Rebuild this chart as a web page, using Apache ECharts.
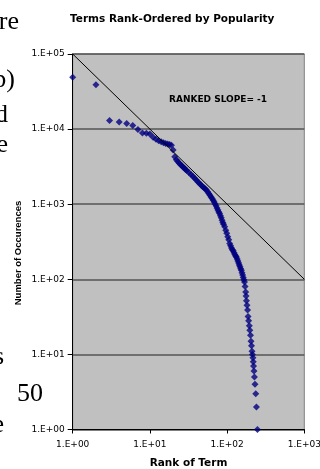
<!DOCTYPE html>
<html>
<head>
<meta charset="utf-8">
<script src="https://cdn.jsdelivr.net/npm/echarts@6/dist/echarts.min.js"></script>
<style>
  html, body { margin: 0; padding: 0; background: #fff; }
  #chart { width: 320px; height: 469px; }
</style>
</head>
<body>
<div id="chart"></div>
<script>
// rank of each term (x) and how often it occurs (y)
const ranks = [1, 2, 3, 4, 5, 6, 7, 8, 9, 10, 11, 12, 13, 14, 15, 16, 17, 18, 19, 20,
  21, 22, 23, 24, 25, 26, 27, 28, 29, 30, 32, 34, 36, 38, 40, 42, 44, 46, 48, 50,
  52, 54, 56, 58, 60, 62, 64, 66, 68, 70, 72, 74, 76, 78, 80, 82, 84, 86, 88, 90,
  93, 96, 99, 102, 105, 108, 111, 114, 117, 120, 123, 126, 129, 132, 135, 138, 141, 144, 147, 150,
  153, 156, 159, 162, 165, 168, 171, 174, 176, 178, 181, 184, 187, 190, 194, 197, 201, 204, 207, 210,
  213, 216, 218, 220, 223, 226, 230, 235, 240, 247]
const counts = [49000, 39000, 13000, 12400, 11900, 11200, 9900, 8900, 8800, 8600, 7800, 7300, 7000, 6800, 6600, 6450, 6350, 6250, 6100, 5250,
  4300, 3900, 3700, 3500, 3350, 3250, 3100, 3000, 2900, 2820, 2650, 2480, 2350, 2220, 2100, 1980, 1890, 1800, 1720, 1660,
  1600, 1540, 1460, 1390, 1320, 1250, 1190, 1130, 1070, 1010, 950, 890, 840, 790, 750, 700, 660, 610, 570, 540,
  500, 450, 410, 370, 335, 300, 280, 262, 248, 240, 225, 214, 205, 198, 186, 175, 165, 155, 147, 138,
  132, 122, 114, 106, 99, 92, 80, 68, 60, 52, 45, 39, 32, 28, 24, 21, 18, 15, 13, 11,
  10, 9, 8, 7, 6, 5, 4, 3, 2, 1]

// reference line of slope -1
const slopeLine = [[1, 100000], [1000, 100]]

// cut-off words of the surrounding document on the left edge
const sideWords = ['ore', '(b)', 'and', 'the', 'is', '50', 'the']

const chart = echarts.init(document.getElementById('chart'))

const expLabel = (v) => '1.E+' + String(Math.round(Math.log10(v))).padStart(2, '0')
const serif = '26px "Liberation Serif"'

const option = {
  animation: false,
  backgroundColor: '#ffffff',
  title: [
    {
      text: 'Terms Rank-Ordered by Popularity',
      left: 70,
      top: 14,
      padding: 0,
      textStyle: { fontFamily: 'DejaVu Sans', fontSize: 10.5, fontWeight: 'bold', color: '#000' }
    },
    {
      text: 'RANKED SLOPE= -1',
      left: 169,
      top: 95,
      padding: 0,
      textStyle: { fontFamily: 'DejaVu Sans', fontSize: 9, fontWeight: 'bold', color: '#000' }
    }
  ],
  grid: {
    left: 72.7,
    right: 15.7,
    top: 54,
    bottom: 39.5,
    outerBoundsMode: 'none',
    show: true,
    backgroundColor: '#c0c0c0',
    borderColor: '#808080',
    borderWidth: 1
  },
  xAxis: {
    type: 'log',
    logBase: 10,
    min: 1,
    max: 1000,
    name: 'Rank of Term',
    nameLocation: 'middle',
    nameGap: 28,
    nameTextStyle: { fontFamily: 'DejaVu Sans', fontSize: 10.5, fontWeight: 'bold', color: '#000' },
    axisLine: { lineStyle: { color: '#000', width: 1 } },
    axisTick: { show: true, length: 4, lineStyle: { color: '#000' } },
    minorTick: { show: false },
    splitLine: { show: false },
    axisLabel: {
      formatter: expLabel,
      margin: 11,
      fontFamily: 'DejaVu Sans',
      fontSize: 9,
      color: '#000'
    }
  },
  yAxis: {
    type: 'log',
    logBase: 10,
    min: 1,
    max: 100000,
    axisLine: { lineStyle: { color: '#000', width: 1 } },
    axisTick: { show: true, length: 5, lineStyle: { color: '#000' } },
    minorTick: { show: false },
    splitLine: { show: true, lineStyle: { color: '#555', width: 1.5 } },
    axisLabel: {
      formatter: expLabel,
      margin: 8,
      fontFamily: 'DejaVu Sans',
      fontSize: 9,
      color: '#000'
    }
  },
  graphic: [
    {
      type: 'text',
      x: 18,
      y: 253,
      rotation: Math.PI / 2,
      style: {
        text: 'Number of Occurences',
        font: 'bold 9.5px "Liberation Sans"',
        fill: '#000',
        align: 'center',
        verticalAlign: 'middle'
      }
    },
    { type: 'text', x: 19, y: 22, style: { text: sideWords[0], font: serif, fill: '#000', align: 'right', verticalAlign: 'middle' } },
    { type: 'text', x: 15, y: 80, style: { text: sideWords[1], font: serif, fill: '#000', align: 'right', verticalAlign: 'middle' } },
    { type: 'text', x: 8, y: 115, style: { text: sideWords[2], font: serif, fill: '#000', align: 'right', verticalAlign: 'middle' } },
    { type: 'text', x: 8, y: 145, style: { text: sideWords[3], font: serif, fill: '#000', align: 'right', verticalAlign: 'middle' } },
    { type: 'text', x: 4, y: 357, style: { text: sideWords[4], font: serif, fill: '#000', align: 'right', verticalAlign: 'middle' } },
    { type: 'text', x: 17, y: 394, style: { text: sideWords[5], font: serif, fill: '#000', align: 'left', verticalAlign: 'middle' } },
    { type: 'text', x: 4, y: 425, style: { text: sideWords[6], font: serif, fill: '#000', align: 'right', verticalAlign: 'middle' } }
  ],
  series: [
    {
      name: 'Terms',
      type: 'scatter',
      symbol: 'diamond',
      symbolSize: 7,
      clip: false,
      itemStyle: { color: '#000080' },
      z: 2,
      data: ranks.map((r, i) => [r, counts[i]])
    },
    {
      name: 'Slope -1',
      type: 'line',
      showSymbol: false,
      symbol: 'none',
      lineStyle: { color: '#000', width: 1 },
      z: 3,
      silent: true,
      data: slopeLine
    }
  ]
}

chart.setOption(option)
</script>
</body>
</html>
